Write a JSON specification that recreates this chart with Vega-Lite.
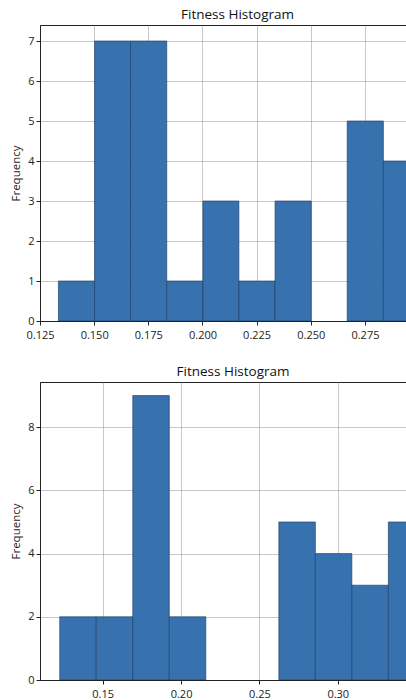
{
  "$schema": "https://vega.github.io/schema/vega-lite/v6.json",
  "padding": {"left": 10, "top": 7, "right": 0, "bottom": 0},
  "spacing": 23,
  "config": {
    "font": "Open Sans",
    "view": {"stroke": "#222222", "strokeWidth": 1},
    "axis": {
      "labelFont": "Open Sans",
      "labelFontSize": 11,
      "labelColor": "#222222",
      "titleFont": "Open Sans",
      "titleFontSize": 11.5,
      "titleFontWeight": "normal",
      "titleColor": "#222222",
      "domainColor": "#222222",
      "tickColor": "#222222",
      "tickSize": 4,
      "gridColor": "#999999",
      "gridOpacity": 0.55,
      "gridWidth": 1,
      "zindex": 1
    },
    "title": {"font": "Open Sans", "fontSize": 13.5, "fontWeight": "normal", "color": "#111111"}
  },
  "vconcat": [
    {
      "title": {"text": "Fitness Histogram", "dx": 14, "offset": 4},
      "width": 367,
      "height": 296,
      "data": {"values": [
        {"bin_start": 0.1335, "bin_end": 0.1502, "count": 1},
        {"bin_start": 0.1502, "bin_end": 0.1668, "count": 7},
        {"bin_start": 0.1668, "bin_end": 0.1835, "count": 7},
        {"bin_start": 0.1835, "bin_end": 0.2002, "count": 1},
        {"bin_start": 0.2002, "bin_end": 0.2168, "count": 3},
        {"bin_start": 0.2168, "bin_end": 0.2335, "count": 1},
        {"bin_start": 0.2335, "bin_end": 0.2502, "count": 3},
        {"bin_start": 0.2668, "bin_end": 0.2835, "count": 5},
        {"bin_start": 0.2835, "bin_end": 0.3002, "count": 4}
      ]},
      "mark": {"type": "rect", "color": "#3872ae", "stroke": "#1c3d63", "strokeWidth": 0.8, "strokeOpacity": 0.8, "clip": true},
      "encoding": {
        "x": {"field": "bin_start", "type": "quantitative", "scale": {"domain": [0.125, 0.2944], "nice": false, "zero": false},
          "axis": {"values": [0.125, 0.15, 0.175, 0.2, 0.225, 0.25, 0.275], "format": ".3f", "title": null, "labelFlush": false, "labelPadding": 4}},
        "x2": {"field": "bin_end"},
        "y": {"field": "count", "type": "quantitative", "scale": {"domain": [0, 7.4], "nice": false},
          "axis": {"values": [0, 1, 2, 3, 4, 5, 6, 7], "title": "Frequency", "titlePadding": 6}},
        "y2": {"datum": 0}
      }
    },
    {
      "title": {"text": "Fitness Histogram", "dx": 8, "offset": 4},
      "width": 370,
      "height": 298,
      "data": {"values": [
        {"bin_start": 0.1226, "bin_end": 0.1459, "count": 2},
        {"bin_start": 0.1459, "bin_end": 0.1692, "count": 2},
        {"bin_start": 0.1692, "bin_end": 0.1925, "count": 9},
        {"bin_start": 0.1925, "bin_end": 0.2158, "count": 2},
        {"bin_start": 0.2624, "bin_end": 0.2857, "count": 5},
        {"bin_start": 0.2857, "bin_end": 0.309, "count": 4},
        {"bin_start": 0.309, "bin_end": 0.3323, "count": 3},
        {"bin_start": 0.3323, "bin_end": 0.3556, "count": 5}
      ]},
      "mark": {"type": "rect", "color": "#3872ae", "stroke": "#1c3d63", "strokeWidth": 0.8, "strokeOpacity": 0.8, "clip": true},
      "encoding": {
        "x": {"field": "bin_start", "type": "quantitative", "scale": {"domain": [0.11, 0.3461], "nice": false, "zero": false},
          "axis": {"values": [0.15, 0.2, 0.25, 0.3], "format": ".2f", "title": null, "labelFlush": false, "labelPadding": 4}},
        "x2": {"field": "bin_end"},
        "y": {"field": "count", "type": "quantitative", "scale": {"domain": [0, 9.43], "nice": false},
          "axis": {"values": [0, 2, 4, 6, 8], "title": "Frequency", "titlePadding": 6}},
        "y2": {"datum": 0}
      }
    }
  ]
}
